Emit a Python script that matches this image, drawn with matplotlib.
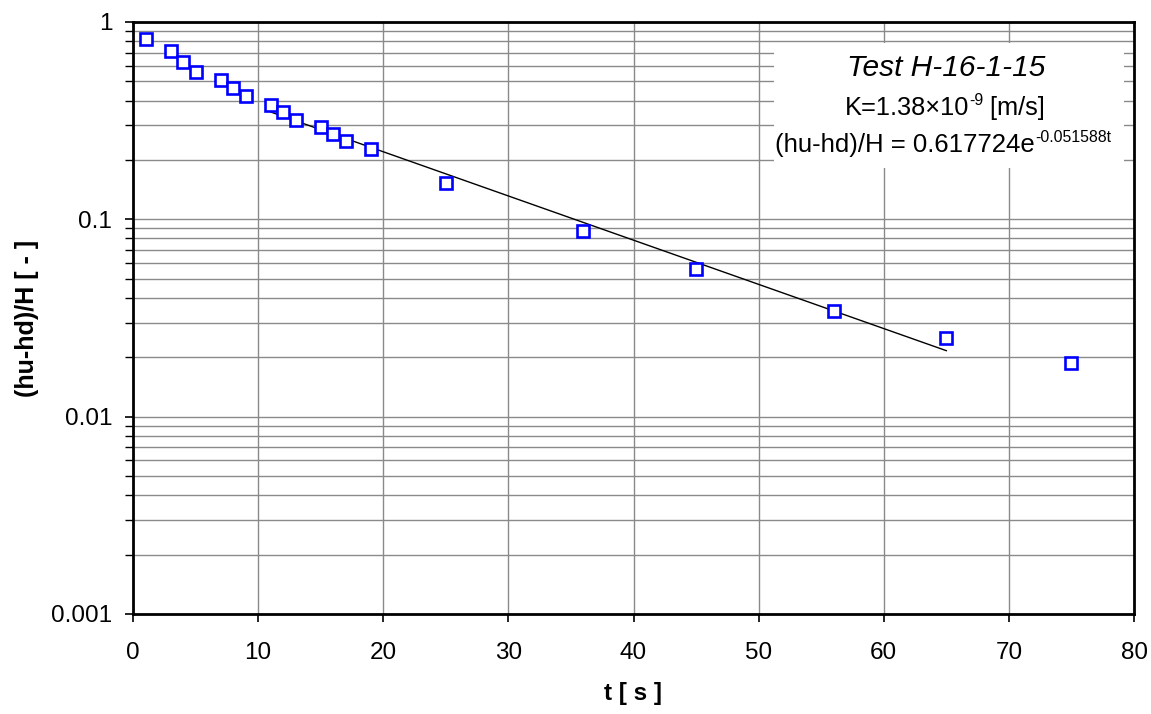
import matplotlib
matplotlib.use("Agg")
import matplotlib.pyplot as plt
from matplotlib.ticker import LogLocator, FixedLocator, NullFormatter
from matplotlib.patches import Rectangle

plt.rcParams['font.family'] = ['Liberation Sans', 'DejaVu Sans']

# Measured data
t = [1, 3, 4, 5, 7, 8, 9, 11, 12, 13, 15, 16, 17, 19, 25, 36, 45, 56, 65, 75]
ratio = [0.820, 0.713, 0.627, 0.558, 0.508, 0.463, 0.422, 0.380, 0.350, 0.319,
         0.294, 0.271, 0.249, 0.227, 0.153, 0.0873, 0.056, 0.0343, 0.0250, 0.0187]

# Fitted trend line (straight on log axis) endpoints
t_fit = [11, 65]
ratio_fit = [0.350, 0.0216]

x_ticks = [0, 10, 20, 30, 40, 50, 60, 70, 80]
y_ticks = [0.001, 0.01, 0.1, 1]
y_tick_labels = ['0.001', '0.01', '0.1', '1']

title_text = "Test H-16-1-15"
k_base, k_sup, k_tail = "K=1.38\u00d710", "-9", " [m/s]"
eq_base, eq_sup = "(hu-hd)/H = 0.617724e", "-0.051588t"

W, H = 1151, 714
fig = plt.figure(figsize=(W / 100, H / 100), dpi=100)
ax = fig.add_axes([133 / W, 1 - 614 / H, (1134 - 133) / W, (614 - 22) / H])

ax.set_yscale('log')
ax.set_xlim(0, 80)
ax.set_ylim(0.001, 1)

ax.xaxis.set_major_locator(FixedLocator(x_ticks))
ax.yaxis.set_minor_locator(LogLocator(base=10, subs=range(2, 10), numticks=50))
ax.yaxis.set_minor_formatter(NullFormatter())
ax.set_yticks(y_ticks)
ax.set_yticklabels(y_tick_labels)

ax.grid(True, which='major', axis='both', color='#8a8a8a', linewidth=1.0)
ax.grid(True, which='minor', axis='y', color='#8a8a8a', linewidth=1.0)
ax.set_axisbelow(True)

for s in ax.spines.values():
    s.set_linewidth(2.0)
    s.set_color('black')

ax.tick_params(axis='both', which='major', direction='out', length=6, width=1.2,
               labelsize=17.5, colors='black')
ax.tick_params(axis='x', which='major', pad=14)
ax.tick_params(axis='y', which='major', pad=9)
ax.tick_params(axis='y', which='minor', direction='out', length=6, width=1.0)

ax.plot(t_fit, ratio_fit, color='black', linewidth=1.0, zorder=3)
ax.plot(t, ratio, linestyle='none', marker='s', markersize=9,
        markerfacecolor='white', markeredgecolor='#0000ff', markeredgewidth=1.9,
        zorder=4)

ax.set_xlabel('t [ s ]', fontsize=17.5, fontweight='bold', labelpad=13)
ax.set_ylabel('(hu-hd)/H [ - ]', fontsize=18, fontweight='bold', labelpad=9)

# Annotation box
box = Rectangle((774 / W, 1 - 168 / H), (1124 - 774) / W, (168 - 43) / H,
                transform=fig.transFigure, facecolor='white', edgecolor='none', zorder=5)
fig.patches.append(box)

renderer = fig.canvas.get_renderer()


def fy(py):
    return 1 - py / H


def composed(parts, cx_px, base_px, size):
    texts = []
    for txt, sup in parts:
        fs = size * 0.62 if sup else size
        tt = fig.text(0, 0, txt, fontsize=fs, ha='left', va='baseline', zorder=6)
        texts.append((tt, sup))
    widths = [tt.get_window_extent(renderer).width for tt, _ in texts]
    x = cx_px - sum(widths) / 2
    for (tt, sup), w in zip(texts, widths):
        yb = base_px - (size * 1.389 * 0.38 if sup else 0)
        tt.set_position((x / W, fy(yb)))
        x += w


fig.text(946 / W, fy(76), title_text, ha='center', va='baseline', fontsize=21.5,
         style='italic', zorder=6)
composed([(k_base, False), (k_sup, True), (k_tail, False)], 945, 115, 18.3)
composed([(eq_base, False), (eq_sup, True)], 943, 152, 18.5)

fig.savefig('out.png', dpi=100)
